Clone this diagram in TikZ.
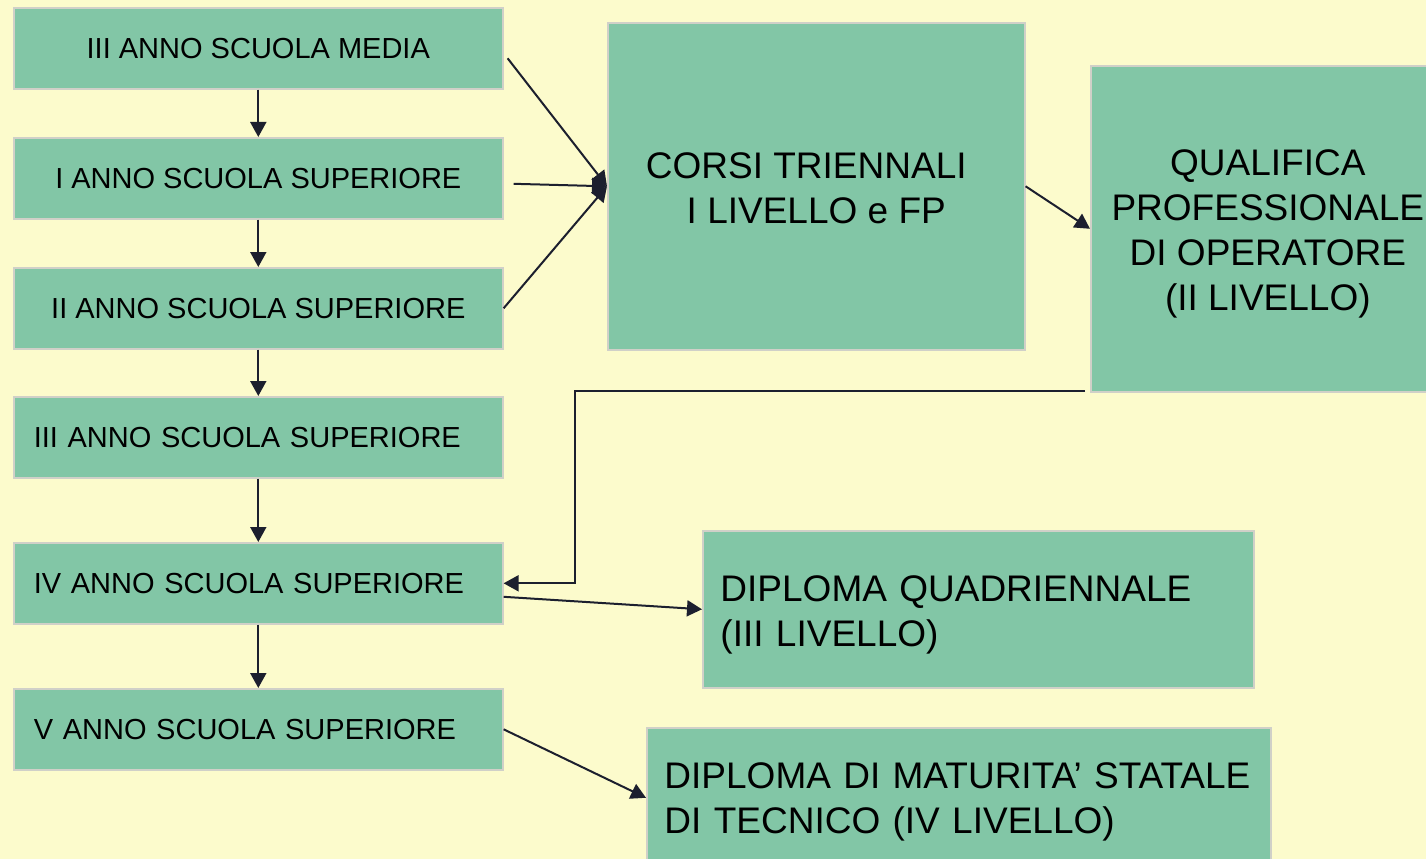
\documentclass[tikz,border=0pt]{standalone}
\usepackage{fontspec}
\setmainfont{Liberation Sans}
\usetikzlibrary{calc,arrows.meta,positioning}
\definecolor{bgc}{RGB}{252,251,204}
\definecolor{boxc}{RGB}{130,198,166}
\definecolor{edgec}{RGB}{208,208,200}
\definecolor{arrc}{RGB}{28,31,46}
\begin{document}
\begin{tikzpicture}[x=0.75pt,y=-0.75pt,
  box/.style={draw=edgec,line width=1.2pt,fill=boxc,anchor=north west,inner sep=0pt,font=\fontsize{21.75pt}{26pt}\selectfont},
  smallc/.style={box,minimum width=489*0.75pt,minimum height=81*0.75pt,align=center},
  smalll/.style={box,minimum height=81*0.75pt,inner xsep=20*0.75pt,text width=449*0.75pt,align=left},
  bigbox/.style={box},
  bigtxt/.style={font=\fontsize{27.75pt}{33.75pt}\selectfont,inner sep=0pt},
  arr/.style={draw=arrc,line width=1.5pt,-{Triangle[length=11.25pt,width=12pt]}}]
\clip (0,0) rectangle (1426,859);
\fill[bgc] (0,0) rectangle (1426,859);
\node[smallc] (b1) at (13,7) {III ANNO SCUOLA MEDIA};
\node[smallc] (b2) at (13,137) {I ANNO SCUOLA SUPERIORE};
\node[smallc] (b3) at (13,267) {II ANNO SCUOLA SUPERIORE};
\node[smalll] (b4) at (13,396) {III ANNO SCUOLA SUPERIORE};
\node[smalll] (b5) at (13,542) {IV ANNO SCUOLA SUPERIORE};
\node[smalll] (b6) at (13,688) {V ANNO SCUOLA SUPERIORE};
\node[bigbox,minimum width=417*0.75pt,minimum height=327*0.75pt,
  label={[bigtxt,align=center,yshift=-1.5pt]center:{CORSI TRIENNALI\hspace*{15pt}\\I LIVELLO e FP}}] (corsi) at (607,22) {};
\node[bigbox,minimum width=354*0.75pt,minimum height=326*0.75pt,
  label={[bigtxt,align=center,yshift=-3.75pt]center:{QUALIFICA\\PROFESSIONALE\\DI OPERATORE\\(II LIVELLO)}}] (qual) at (1090,65) {};
\node[bigbox,minimum width=551*0.75pt,minimum height=157*0.75pt,
  label={[bigtxt,text width=513*0.75pt,align=left,yshift=-4.5pt,xshift=-1pt]center:{DIPLOMA QUADRIENNALE\\(III LIVELLO)}}] (dq) at (702,530) {};
\node[bigbox,minimum width=624*0.75pt,minimum height=140*0.75pt,
  label={[bigtxt,text width=586*0.75pt,align=left,yshift=-3pt,xshift=-1pt]center:{DIPLOMA DI MATURITA’ STATALE\\DI TECNICO (IV LIVELLO)}}] (dm) at (646,727) {};
\draw[arr] (b1.south) -- (b2.north);
\draw[arr] (b2.south) -- (b3.north);
\draw[arr] (b3.south) -- (b4.north);
\draw[arr] (b4.south) -- (b5.north);
\draw[arr] (b5.south) -- (b6.north);
\draw[arr] ($(b1.east)+(4,10)$) -- (corsi.west);
\draw[arr] ($(b2.east)+(10,5.5)$) -- (corsi.west);
\draw[arr] (b3.east) -- (corsi.west);
\draw[arr] (corsi.east) -- (qual.west);
\draw[arr] ($(qual.south west)+(-5,-2)$) -| ($(b5.east)+(71,0)$) -- (b5.east);
\draw[arr] ($(b5.east)+(0,13.5)$) -- (dq.west);
\draw[arr] (b6.east) -- (dm.west);
\end{tikzpicture}
\end{document}
